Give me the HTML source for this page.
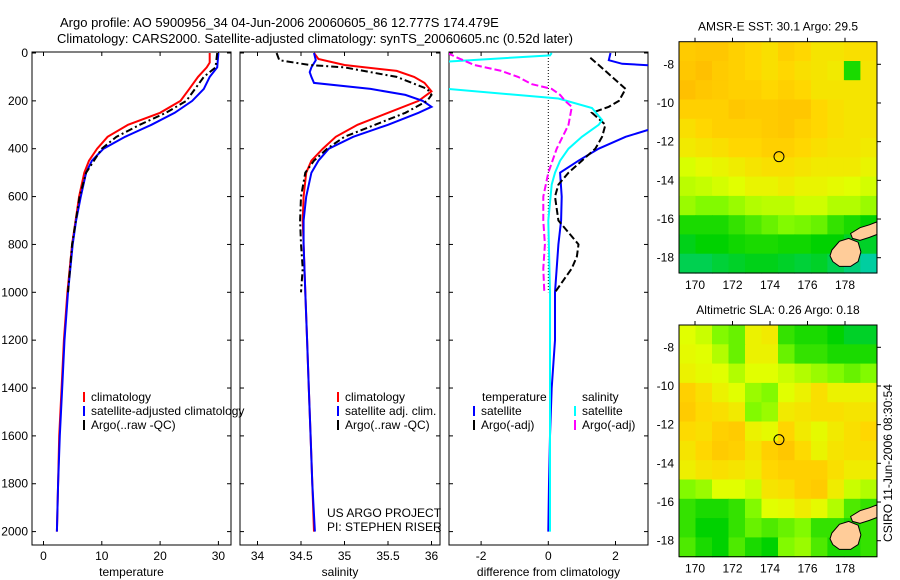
<!DOCTYPE html>
<html><head><meta charset="utf-8"><style>
body{margin:0;background:#fff}
svg{display:block;font-family:"Liberation Sans",sans-serif;font-size:12px}
</style></head><body>
<svg id="fig" width="900" height="580" viewBox="0 0 900 580">
<rect width="900" height="580" fill="#fff"/>
<text x="60" y="27" font-size="13">Argo profile: AO 5900956_34 04-Jun-2006 20060605_86 12.777S 174.479E</text>
<text x="57" y="43" font-size="13">Climatology: CARS2000. Satellite-adjusted climatology: synTS_20060605.nc (0.52d later)</text>
<g id="g1"></g>
<g id="g2"></g>
<g id="g3"></g>
<g id="m1"></g>
<g id="m2"></g>
<text transform="translate(892,463) rotate(-90)" text-anchor="middle">CSIRO 11-Jun-2006 08:30:54</text>
</svg>
<script>
// ---- data ----
const depthTicks=[0,200,400,600,800,1000,1200,1400,1600,1800,2000];
const tTicks=[0,10,20,30];
const sTicks=[34,34.5,35,35.5,36];
const dTicks=[-2,0,2];
const tClimD=[0,40,60,100,150,200,250,300,350,400,450,500,600,700,800,1000,1200,1400,1600,1800,2000];
const tClimV=[28.5,28.5,28,26.5,25,23.5,20,14.5,11,9.2,7.8,7,6.1,5.5,4.9,4.1,3.5,3.1,2.7,2.5,2.3];
const tSatD=[0,60,100,150,200,250,300,350,400,450,500,600,700,800,1000,1200,1400,1600,1800,2000];
const tSatV=[30,29.8,28.5,27.5,25.5,22.5,18.5,14,10.3,8.3,7.3,6.4,5.6,5,4.2,3.6,3.2,2.8,2.5,2.3];
const tArgD=[0,60,100,200,250,300,350,400,500,600,800,1000];
const tArgV=[29.8,29.5,27.5,24.5,21,16.5,12.5,10,7.3,6.2,4.9,4.2];
const sClimD=[0,25,50,75,100,125,160,200,250,300,350,400,450,500,600,700,800,1000,1200,1400,1600,1800,2000];
const sClimV=[34.65,34.7,35.0,35.6,35.8,35.92,36.0,35.85,35.5,35.15,34.9,34.75,34.62,34.56,34.53,34.52,34.53,34.55,34.57,34.59,34.61,34.63,34.65];
const sSatD=[0,30,60,80,100,125,150,175,200,225,250,300,350,400,450,500,600,700,800,1000,1200,1400,1600,1800,2000];
const sSatV=[34.65,34.67,34.62,34.6,34.62,34.65,35.3,35.7,35.9,36.0,35.85,35.5,35.1,34.82,34.7,34.62,34.56,34.53,34.53,34.55,34.57,34.59,34.61,34.63,34.66];
const sArgD=[0,30,50,60,100,150,175,200,250,300,350,400,450,500,600,700,800,900,1000];
const sArgV=[34.22,34.25,34.6,35.0,35.6,35.95,36.0,35.95,35.7,35.35,35.0,34.8,34.65,34.55,34.5,34.49,34.5,34.52,34.5];
const dTSatD=[0,30,45,55,300,320,350,400,450,500,600,700,800,1000,1200,1400,1600,1800,2000];
const dTSatV=[1.85,1.8,2.2,3.5,3.5,3.0,2.3,1.5,0.9,0.35,0.4,0.38,0.3,0.2,0.2,0.1,0.05,0.02,0.0];
const dTArgD=[20,50,100,150,200,225,250,300,350,400,450,500,550,600,700,750,800,850,900,950,1000];
const dTArgV=[1.25,1.5,1.9,2.3,2.1,1.8,1.3,1.7,1.6,1.4,1.0,0.6,0.3,0.2,0.3,0.6,0.9,0.85,0.7,0.45,0.2];
const dSSatD=[0,10,40,60,146,150,190,230,280,300,350,400,450,500,550,700,1000,1400,2000];
const dSSatV=[0.1,0.05,-3.5,-3.5,-3.5,-3.0,0.3,1.3,1.6,1.5,1.0,0.6,0.35,0.2,0.1,0,0.05,0.05,0.05];
const dSArgD=[0,20,50,75,100,130,150,175,200,225,300,400,500,600,700,800,900,1000];
const dSArgV=[-3,-2.7,-2.2,-1.4,-0.9,-0.5,0.1,0.35,0.5,0.7,0.6,0.25,0.0,-0.15,-0.15,-0.1,-0.15,-0.12];
const lonTicks=[170,172,174,176,178];
const latTicks=[-8,-10,-12,-14,-16,-18];
const sstGrid=[
[.9,.92,.92,.88,.85,.82,.88,.85,.8,.8,.82,.82],
[.92,.95,.9,.88,.85,.82,.85,.82,.8,.78,.3,.8],
[.95,.92,.9,.88,.88,.85,.88,.85,.8,.8,.8,.8],
[.88,.88,.88,.92,.9,.9,.92,.92,.85,.82,.8,.8],
[.82,.85,.88,.88,.88,.9,.92,.88,.85,.82,.8,.8],
[.78,.8,.82,.85,.85,.88,.88,.85,.82,.8,.8,.78],
[.68,.72,.74,.77,.8,.82,.82,.8,.78,.78,.78,.74],
[.62,.64,.67,.7,.74,.74,.77,.74,.74,.72,.7,.67],
[.55,.5,.5,.55,.6,.62,.62,.66,.66,.6,.6,.55],
[.3,.3,.3,.35,.4,.45,.5,.48,.45,.35,.3,.25],
[.22,.25,.25,.28,.3,.3,.28,.28,.25,.25,.2,.2],
[.15,.15,.18,.2,.22,.22,.2,.18,.2,.15,.1,.05]];
const slaGrid=[
[.7,.65,.5,.45,.75,.78,.35,.3,.3,.25,.2,.2],
[.72,.7,.6,.45,.75,.75,.45,.35,.35,.3,.3,.3],
[.75,.72,.7,.6,.7,.7,.65,.6,.55,.5,.45,.5],
[.88,.82,.75,.7,.55,.5,.7,.75,.82,.75,.75,.75],
[.9,.84,.82,.78,.5,.55,.78,.8,.82,.82,.8,.8],
[.84,.82,.88,.9,.75,.72,.86,.78,.72,.78,.82,.85],
[.8,.85,.9,.88,.8,.88,.92,.84,.74,.8,.82,.82],
[.76,.8,.82,.8,.77,.85,.88,.88,.88,.82,.77,.77],
[.5,.55,.7,.7,.65,.8,.82,.88,.9,.77,.65,.6],
[.35,.3,.3,.35,.5,.7,.72,.77,.72,.6,.4,.35],
[.35,.25,.25,.35,.45,.4,.45,.5,.35,.35,.3,.35],
[.4,.3,.25,.4,.3,.25,.5,.55,.4,.3,.3,.35]];
const island1Lon=[177.3,177.7,178.2,178.7,178.85,178.7,178.3,177.7,177.35,177.2];
const island1Lat=[-17.6,-17.15,-17.0,-17.2,-17.7,-18.2,-18.45,-18.45,-18.2,-17.9];
const island2Lon=[178.3,178.8,179.3,179.7,179.7,179.3,178.8,178.4];
const island2Lat=[-16.75,-16.45,-16.3,-16.15,-16.8,-16.95,-17.1,-17.0];
const argoLon=174.479, argoLat=-12.777;

// ---- helpers ----
const NS='http://www.w3.org/2000/svg';
function mk(p,tag,at){const e=document.createElementNS(NS,tag);for(const k in at)e.setAttribute(k,at[k]);p.appendChild(e);return e;}
const yD=d=>53+d*0.2393;
const TOP=52,BOT=545;
function panel(g,left,right,x0,ppu,xt,labels,xlab,name){
  const xf=v=>x0+v*ppu;
  const r=mk(g,'rect',{x:left,y:TOP,width:right-left,height:BOT-TOP,fill:'none',stroke:'#000'});
  
  
  depthTicks.forEach(d=>{
    mk(g,'line',{x1:left,x2:left+4,y1:yD(d),y2:yD(d),stroke:'#000'});
    mk(g,'line',{x1:right,x2:right-4,y1:yD(d),y2:yD(d),stroke:'#000'});
    if(labels){const t=mk(g,'text',{x:left-4,y:yD(d)+4,'text-anchor':'end'});t.textContent=d;
      
      }
  });
  xt.forEach(v=>{
    mk(g,'line',{x1:xf(v),x2:xf(v),y1:BOT,y2:BOT-4,stroke:'#000'});
    mk(g,'line',{x1:xf(v),x2:xf(v),y1:TOP,y2:TOP+4,stroke:'#000'});
    const t=mk(g,'text',{x:xf(v),y:BOT+15,'text-anchor':'middle'});t.textContent=v;
    
    
  });
  const xl=mk(g,'text',{x:(left+right)/2,y:576,'text-anchor':'middle'});xl.textContent=xlab;
  
  
  const cid='clip'+name;
  const cp=mk(g,'clipPath',{id:cid});mk(cp,'rect',{x:left,y:TOP,width:right-left,height:BOT-TOP});
  return {xf,cid};
}
function line(g,P,D,V,color,dash,nm){
  const pts=D.map((d,i)=>P.xf(V[i]).toFixed(1)+','+yD(d).toFixed(1)).join(' ');
  const a={points:pts,fill:'none',stroke:color,'stroke-width':2,'clip-path':'url(#'+P.cid+')'};
  if(dash)a['stroke-dasharray']=dash;
  const e=mk(g,'polyline',a);
  
  
}
function legend(g,x,y,color,label,nm){
  if(color)mk(g,'line',{x1:x,x2:x,y1:y-9,y2:y+1,stroke:color,'stroke-width':2});
  const t=mk(g,'text',{x:x+7,y:y});t.textContent=label;
  
  
}
// ---- panel 1 ----
const g1=document.getElementById('g1');
const P1=panel(g1,32,231,43.5,5.83,tTicks,true,'temperature','temperature');
line(g1,P1,tClimD,tClimV,'#f00',null,'temperature-climatology-line');
line(g1,P1,tSatD,tSatV,'#00f',null,'temperature-satellite-line');
line(g1,P1,tArgD,tArgV,'#000','7,3,2,3','temperature-argo-line');
legend(g1,84,401,'#f00','climatology','legend-climatology');
legend(g1,84,415,'#00f','satellite-adjusted climatology','legend-satellite-adjusted');
legend(g1,84,429,'#000','Argo(..raw -QC)','legend-argo');
// ---- panel 2 ----
const g2=document.getElementById('g2');
const P2=panel(g2,240,440,257.5-34*87,87,sTicks,false,'salinity','salinity');
line(g2,P2,sClimD,sClimV,'#f00',null,'salinity-climatology-line');
line(g2,P2,sSatD,sSatV,'#00f',null,'salinity-satellite-line');
line(g2,P2,sArgD,sArgV,'#000','7,3,2,3','salinity-argo-line');
legend(g2,338,401,'#f00','climatology','legend-climatology-2');
legend(g2,338,415,'#00f','satellite adj. clim.','legend-satellite-adj');
legend(g2,338,429,'#000','Argo(..raw -QC)','legend-argo-2');
legend(g2,320,517,null,'US ARGO PROJECT','project-note');
legend(g2,320,531,null,'PI: STEPHEN RISER','pi-note');
// ---- panel 3 ----
const g3=document.getElementById('g3');
const P3=panel(g3,449,648,548.3,33.6,dTicks,false,'difference from climatology','difference');
mk(g3,'line',{x1:P3.xf(0),x2:P3.xf(0),y1:TOP,y2:yD(1000),stroke:'#000','stroke-dasharray':'1,2'});
line(g3,P3,dTSatD,dTSatV,'#00f',null,'temperature-diff-satellite-line');
line(g3,P3,dTArgD,dTArgV,'#000','7,3','temperature-diff-argo-line');
line(g3,P3,dSSatD,dSSatV,'#0ff',null,'salinity-diff-satellite-line');
line(g3,P3,dSArgD,dSArgV,'#f0f','7,3','salinity-diff-argo-line');
legend(g3,475,401,null,'temperature','legend-temperature-header');
legend(g3,474,415,'#00f','satellite','legend-temp-satellite');
legend(g3,474,429,'#000','Argo(-adj)','legend-temp-argo');
legend(g3,575,401,null,'salinity','legend-salinity-header');
legend(g3,575,415,'#0ff','satellite','legend-sal-satellite');
legend(g3,575,429,'#f0f','Argo(-adj)','legend-sal-argo');
// ---- maps ----
const stops=[[0,[0,205,200]],[0.25,[0,210,0]],[0.5,[130,250,0]],[0.7,[225,255,0]],[0.85,[255,215,0]],[1,[255,180,0]]];
function cmap(v){for(let i=1;i<stops.length;i++){if(v<=stops[i][0]){const a=stops[i-1],b=stops[i],f=(v-a[0])/(b[0]-a[0]);
  return 'rgb('+a[1].map((c,k)=>Math.round(c+(b[1][k]-c)*f)).join(',')+')';}}return 'rgb(255,180,0)';}
function map(id,grid,top,bottom,lat8,lat18,title,nm){
  const g=document.getElementById(id);
  const L=679,R=877;
  const xL=lon=>695+(lon-170)*18.75;
  const ppd=(lat18-lat8)/10;
  const yL=lat=>lat8+(-8-lat)*ppd;
  const lon0=169.15,lon1=179.7,latT=-8-(top-lat8)/ppd,latB=-8-(bottom-lat8)/ppd;
  const nr=grid.length,nc=grid[0].length;
  const cw=(lon1-lon0)/nc,ch=(latT-latB)/nr;
  grid.forEach((row,r)=>row.forEach((v,c)=>{
    const x=xL(lon0+c*cw),y=yL(latT-r*ch);
    const e=mk(g,'rect',{x:x.toFixed(1),y:y.toFixed(1),width:(cw*18.75+0.6).toFixed(1),height:(ch*ppd+0.6).toFixed(1),fill:cmap(v)});
    
    
  }));
  [[island1Lon,island1Lat],[island2Lon,island2Lat]].forEach(([lo,la])=>{
    const e=mk(g,'polygon',{points:lo.map((v,i)=>xL(v).toFixed(1)+','+yL(la[i]).toFixed(1)).join(' '),fill:'#fc9',stroke:'#000','stroke-width':1});
    
    
  });
  const c=mk(g,'circle',{cx:xL(argoLon),cy:yL(argoLat),r:5,fill:'none',stroke:'#000'});
  
  
  mk(g,'rect',{x:L,y:top,width:R-L,height:bottom-top,fill:'none',stroke:'#000'});
  lonTicks.forEach(v=>{mk(g,'line',{x1:xL(v),x2:xL(v),y1:top,y2:top-4,stroke:'#000'});
    const t=mk(g,'text',{x:xL(v),y:bottom+16,'text-anchor':'middle'});t.textContent=v;
    
    });
  latTicks.forEach(v=>{mk(g,'line',{x1:R,x2:R+4,y1:yL(v),y2:yL(v),stroke:'#000'});
    const t=mk(g,'text',{x:L-5,y:yL(v)+4,'text-anchor':'end'});t.textContent=v;
    
    });
  const t=mk(g,'text',{x:(L+R)/2,y:top-11,'text-anchor':'middle'});t.textContent=title;
  
  
}
map('m1',sstGrid,41.7,273,64.3,257.7,'AMSR-E SST: 30.1 Argo: 29.5','sst-map');
map('m2',slaGrid,325,556.7,347.3,540.7,'Altimetric SLA: 0.26 Argo: 0.18','sla-map');
</script>
</body></html>
